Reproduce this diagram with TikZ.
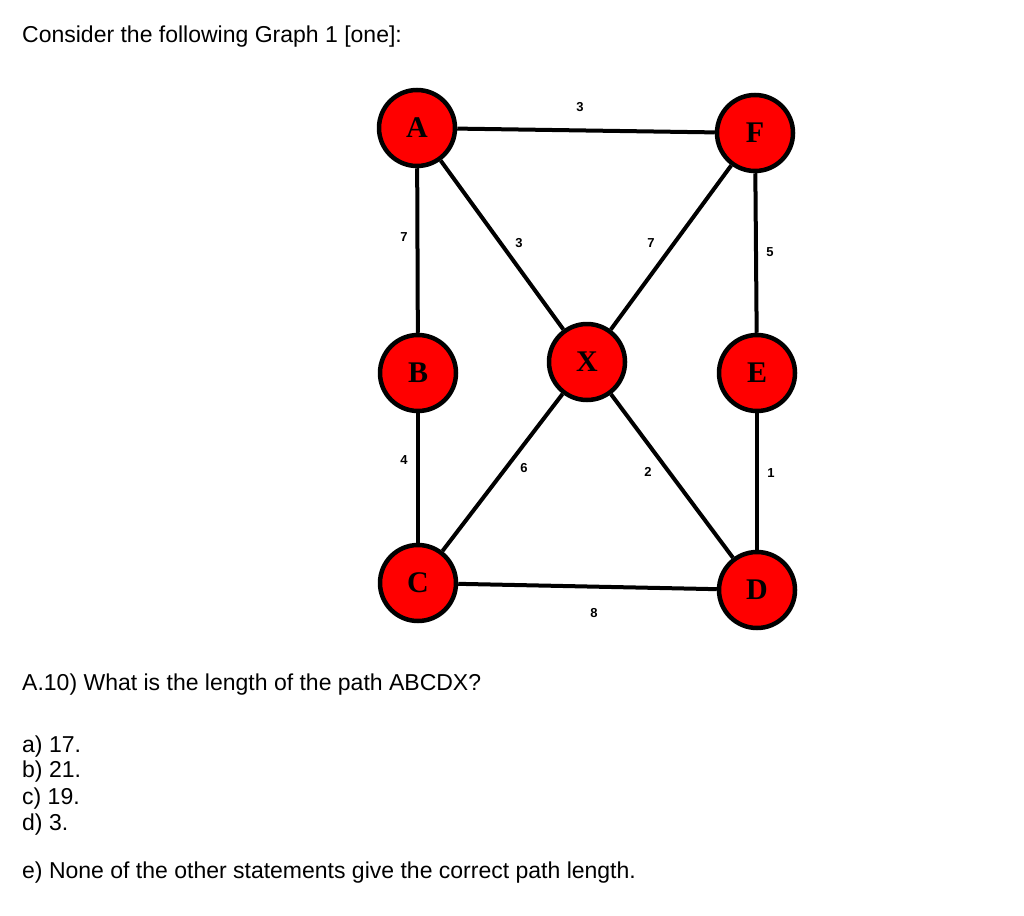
\documentclass[tikz,border=0pt]{standalone}
\usepackage{fontspec}
\setmainfont{Liberation Sans}
\newfontfamily\nodefont{Liberation Serif}
\begin{document}
\begin{tikzpicture}[x=1pt,y=-1pt,
  vert/.style={circle,fill=red,draw=black,line width=4.5pt,minimum size=76pt,inner sep=0pt,font=\nodefont\bfseries\fontsize{30}{30}\selectfont},
  edge/.style={line width=4pt},
  wt/.style={font=\bfseries\fontsize{13}{13}\selectfont},
  txt/.style={anchor=west,inner sep=0pt,font=\fontsize{23}{25}\selectfont}]
\useasboundingbox (0,0) rectangle (1024,915);
\node[txt] (t1) at (22,37) {Consider the following Graph 1 [one]:};
\node[vert] (A) at (417,128) {A};
\node[vert] (F) at (755,133) {F};
\node[vert] (B) at (418,373) {B};
\node[vert] (X) at (587,362) {X};
\node[vert] (E) at (757,373) {E};
\node[vert] (C) at (418,583) {C};
\node[vert] (D) at (757,590) {D};
\begin{scope}[on background layer/.try]
\end{scope}
\draw[edge] (A) -- (F);
\draw[edge] (A) -- (B);
\draw[edge] (A) -- (X);
\draw[edge] (F) -- (X);
\draw[edge] (F) -- (E);
\draw[edge] (B) -- (C);
\draw[edge] (C) -- (X);
\draw[edge] (X) -- (D);
\draw[edge] (E) -- (D);
\draw[edge] (C) -- (D);
\node[wt] (w1) at (580,107) {3};
\node[wt] (w2) at (404,237) {7};
\node[wt] (w3) at (519,243) {3};
\node[wt] (w4) at (651,243) {7};
\node[wt] (w5) at (770,252) {5};
\node[wt] (w6) at (404,460) {4};
\node[wt] (w7) at (524,468) {6};
\node[wt] (w8) at (648,472) {2};
\node[wt] (w9) at (771,473) {1};
\node[wt] (w10) at (594,613) {8};
\node[txt] (q) at (22,685) {A.10) What is the length of the path ABCDX?};
\node[txt] (a) at (22,747) {a) 17.};
\node[txt] (b) at (22,772) {b) 21.};
\node[txt] (c) at (22,799) {c) 19.};
\node[txt] (d) at (22,825) {d) 3.};
\node[txt] (e) at (22,873) {e) None of the other statements give the correct path length.};
\end{tikzpicture}
\end{document}
